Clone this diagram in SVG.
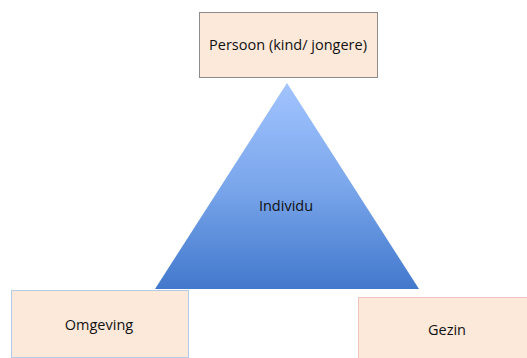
<svg xmlns="http://www.w3.org/2000/svg" width="527" height="358" viewBox="0 0 527 358">
<style>
.box{fill:#FDE9DA;stroke-width:1}
.lbl{font-family:"Open Sans","Liberation Sans",sans-serif;font-size:14.5px;fill:#111111;text-anchor:middle}
</style>
<defs>
<linearGradient id="tri" x1="0" y1="0" x2="0" y2="1">
<stop offset="0" stop-color="#A2C4FF"/>
<stop offset="0.5" stop-color="#7AA6EB"/>
<stop offset="1" stop-color="#4278CC"/>
</linearGradient>
</defs>
<rect width="527" height="358" fill="#ffffff"/>
<g id="connectors"></g>
<g id="individu">
<polygon points="287,83 419,289 155,289" fill="url(#tri)"/>
<text class="lbl" x="286" y="211">Individu</text>
</g>
<g id="persoon">
<rect class="box" x="199.5" y="12.5" width="178" height="65" stroke="#8C8C8C"/>
<text class="lbl" x="288" y="50">Persoon (kind/ jongere)</text>
</g>
<g id="omgeving">
<rect class="box" x="11.5" y="290.5" width="177" height="67" stroke="#B4CBE6"/>
<text class="lbl" x="99" y="330">Omgeving</text>
</g>
<g id="gezin">
<rect class="box" x="358.5" y="297.5" width="175" height="70" stroke="#F2C4C0"/>
<text class="lbl" x="447" y="335">Gezin</text>
</g>
</svg>
